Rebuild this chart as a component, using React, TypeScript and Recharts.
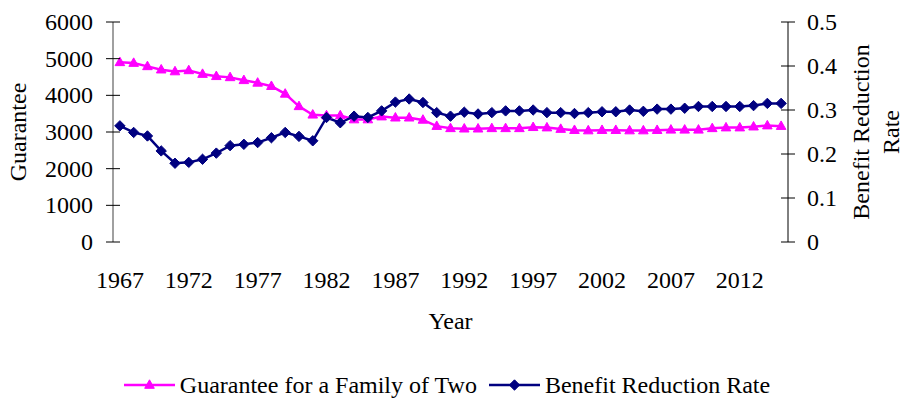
import React from 'react';
import { LineChart, Line, XAxis, YAxis, Legend } from 'recharts';

const years = [
  1967, 1968, 1969, 1970, 1971, 1972, 1973, 1974, 1975, 1976,
  1977, 1978, 1979, 1980, 1981, 1982, 1983, 1984, 1985, 1986,
  1987, 1988, 1989, 1990, 1991, 1992, 1993, 1994, 1995, 1996,
  1997, 1998, 1999, 2000, 2001, 2002, 2003, 2004, 2005, 2006,
  2007, 2008, 2009, 2010, 2011, 2012, 2013, 2014, 2015,
];

const guarantee = [
  4900, 4880, 4790, 4700, 4650, 4680, 4580, 4520, 4490, 4410,
  4340, 4250, 4040, 3700, 3470, 3450, 3450, 3340, 3340, 3420,
  3390, 3390, 3330, 3160, 3100, 3090, 3090, 3100, 3100, 3100,
  3130, 3120, 3080, 3050, 3040, 3050, 3050, 3040, 3040, 3050,
  3060, 3060, 3060, 3100, 3120, 3120, 3145, 3175, 3160,
];

const benefitReductionRate = [
  0.264, 0.249, 0.241, 0.207, 0.179, 0.181, 0.188, 0.202, 0.219, 0.222,
  0.226, 0.237, 0.249, 0.240, 0.230, 0.283, 0.271, 0.286, 0.283, 0.298,
  0.318, 0.325, 0.317, 0.294, 0.286, 0.295, 0.291, 0.294, 0.298, 0.298,
  0.300, 0.294, 0.294, 0.292, 0.294, 0.296, 0.296, 0.300, 0.297, 0.302,
  0.302, 0.304, 0.308, 0.308, 0.308, 0.308, 0.310, 0.315, 0.315,
];

const yearLabels = [1967, 1972, 1977, 1982, 1987, 1992, 1997, 2002, 2007, 2012];
const leftTicks = [0, 1000, 2000, 3000, 4000, 5000, 6000];
const rightTicks = [0, 0.1, 0.2, 0.3, 0.4, 0.5];

const PINK = '#FF00FF';
const NAVY = '#000080';
const FONT = '"Liberation Serif", "Times New Roman", serif';
const FS = 24;

const data = years.map((y, i) => ({
  year: y,
  guarantee: guarantee[i],
  rate: benefitReductionRate[i],
}));

const boundaryTicks = [...years.map((y) => y - 0.5), years[years.length - 1] + 0.5];
const xDomain = [boundaryTicks[0], boundaryTicks[boundaryTicks.length - 1]];

const Triangle = ({ cx, cy, color }: any) => (
  <path d={`M${cx},${cy - 5.2} L${cx + 4.8},${cy + 3.3} L${cx - 4.8},${cy + 3.3} Z`} fill={color} stroke={color} strokeWidth={1} />
);
const Diamond = ({ cx, cy, color }: any) => (
  <path d={`M${cx},${cy - 5.2} L${cx + 5.2},${cy} L${cx},${cy + 5.2} L${cx - 5.2},${cy} Z`} fill={color} stroke={color} strokeWidth={1} />
);

const XTickMark = (props: any) => {
  const { x, y } = props;
  return <line x1={x} x2={x} y1={y - 7} y2={y + 7} stroke="#000" strokeWidth={1} />;
};

const XTickLabel = (props: any) => {
  const { x, y, payload } = props;
  return (
    <text x={x} y={y + 46} textAnchor="middle" fontFamily={FONT} fontSize={FS} fill="#000">
      {payload.value}
    </text>
  );
};

const LeftTick = (props: any) => {
  const { x, y, payload } = props;
  return (
    <g>
      <line x1={x - 7} x2={x + 7} y1={y} y2={y} stroke="#000" strokeWidth={1} />
      <text x={x - 20} y={y} dy="0.33em" textAnchor="end" fontFamily={FONT} fontSize={FS} fill="#000">
        {payload.value}
      </text>
    </g>
  );
};

const RightTick = (props: any) => {
  const { x, y, payload } = props;
  return (
    <g>
      <line x1={x - 7} x2={x + 7} y1={y} y2={y} stroke="#000" strokeWidth={1} />
      <text x={x + 19} y={y} dy="0.33em" textAnchor="start" fontFamily={FONT} fontSize={FS} fill="#000">
        {String(payload.value)}
      </text>
    </g>
  );
};

const LeftLabel = (props: any) => {
  const { x, y, height } = props.viewBox;
  const cx = x + 18;
  const cy = y + height / 2;
  return (
    <text transform={`translate(${cx},${cy}) rotate(-90)`} textAnchor="middle" dominantBaseline="central" fontFamily={FONT} fontSize={FS} fill="#000">
      Guarantee
    </text>
  );
};

const RightLabel = (props: any) => {
  const { x, y, height } = props.viewBox;
  const cy = y + height / 2;
  return (
    <g>
      <text transform={`translate(${x + 73},${cy}) rotate(-90)`} textAnchor="middle" dominantBaseline="central" fontFamily={FONT} fontSize={FS} fill="#000">
        Benefit Reduction
      </text>
      <text transform={`translate(${x + 103},${cy}) rotate(-90)`} textAnchor="middle" dominantBaseline="central" fontFamily={FONT} fontSize={FS} fill="#000">
        Rate
      </text>
    </g>
  );
};

const YearLabel = (props: any) => {
  const { x, y, width } = props.viewBox;
  return (
    <text x={x + width / 2} y={y + 87} textAnchor="middle" fontFamily={FONT} fontSize={FS} fill="#000">
      Year
    </text>
  );
};

const legendItems = [
  { name: 'Guarantee for a Family of Two', color: PINK, marker: 'triangle' },
  { name: 'Benefit Reduction Rate', color: NAVY, marker: 'diamond' },
];

const LegendContent = () => (
  <div style={{ display: 'flex', justifyContent: 'center', alignItems: 'center', height: 28, fontFamily: FONT, fontSize: FS, color: '#000' }}>
    {legendItems.map((it, i) => (
      <div key={it.name} style={{ display: 'flex', alignItems: 'center', marginLeft: i === 0 ? 0 : 12 }}>
        <svg width={51} height={20} style={{ display: 'block' }}>
          <line x1={0} x2={51} y1={10} y2={10} stroke={it.color} strokeWidth={2.5} />
          {it.marker === 'triangle' ? (
            <Triangle cx={25.5} cy={10} color={it.color} />
          ) : (
            <Diamond cx={25.5} cy={10} color={it.color} />
          )}
        </svg>
        <span style={{ marginLeft: 5, lineHeight: '28px', whiteSpace: 'nowrap' }}>{it.name}</span>
      </div>
    ))}
  </div>
);

export default function App() {
  return (
    <div style={{ position: 'absolute', left: 0, top: 0, width: 904, height: 401, background: '#fff' }}>
      <LineChart width={904} height={401} data={data} margin={{ top: 22, right: 0, bottom: 59, left: 0 }}>
        <XAxis
          xAxisId="t"
          dataKey="year"
          type="number"
          domain={xDomain}
          ticks={boundaryTicks}
          interval={0}
          height={0}
          tickSize={0}
          tickMargin={0}
          tick={<XTickMark />}
          axisLine={{ stroke: '#000', strokeWidth: 1 }}
          tickLine={false}
          allowDataOverflow
        />
        <XAxis
          xAxisId="lab"
          dataKey="year"
          type="number"
          domain={xDomain}
          ticks={yearLabels}
          interval={0}
          height={100}
          tickSize={0}
          tickMargin={0}
          tick={<XTickLabel />}
          axisLine={false}
          tickLine={false}
          allowDataOverflow
          label={{ content: (p: any) => <YearLabel {...p} /> }}
        />
        <YAxis
          yAxisId="l"
          orientation="left"
          width={113}
          domain={[0, 6000]}
          ticks={leftTicks}
          interval={0}
          tickSize={0}
          tickMargin={0}
          tick={<LeftTick />}
          axisLine={{ stroke: '#808080', strokeWidth: 1.5 }}
          tickLine={false}
          allowDataOverflow
          label={{ content: (p: any) => <LeftLabel {...p} /> }}
        />
        <YAxis
          yAxisId="r"
          orientation="right"
          width={116}
          domain={[0, 0.5]}
          ticks={rightTicks}
          interval={0}
          tickSize={0}
          tickMargin={0}
          tick={<RightTick />}
          axisLine={{ stroke: '#000', strokeWidth: 1 }}
          tickLine={false}
          allowDataOverflow
          label={{ content: (p: any) => <RightLabel {...p} /> }}
        />
        <Line
          xAxisId="t"
          yAxisId="l"
          dataKey="guarantee"
          name="Guarantee for a Family of Two"
          stroke={PINK}
          strokeWidth={2.5}
          isAnimationActive={false}
          dot={(p: any) => <Triangle key={`g${p.index}`} cx={p.cx} cy={p.cy} color={PINK} />}
          activeDot={false}
        />
        <Line
          xAxisId="t"
          yAxisId="r"
          dataKey="rate"
          name="Benefit Reduction Rate"
          stroke={NAVY}
          strokeWidth={2.5}
          isAnimationActive={false}
          dot={(p: any) => <Diamond key={`r${p.index}`} cx={p.cx} cy={p.cy} color={NAVY} />}
          activeDot={false}
        />
        <Legend
          layout="horizontal"
          verticalAlign="middle"
          align="center"
          wrapperStyle={{ position: 'absolute', left: -5, top: 371, width: 904, height: 28 }}
          content={<LegendContent />}
        />
      </LineChart>
    </div>
  );
}
